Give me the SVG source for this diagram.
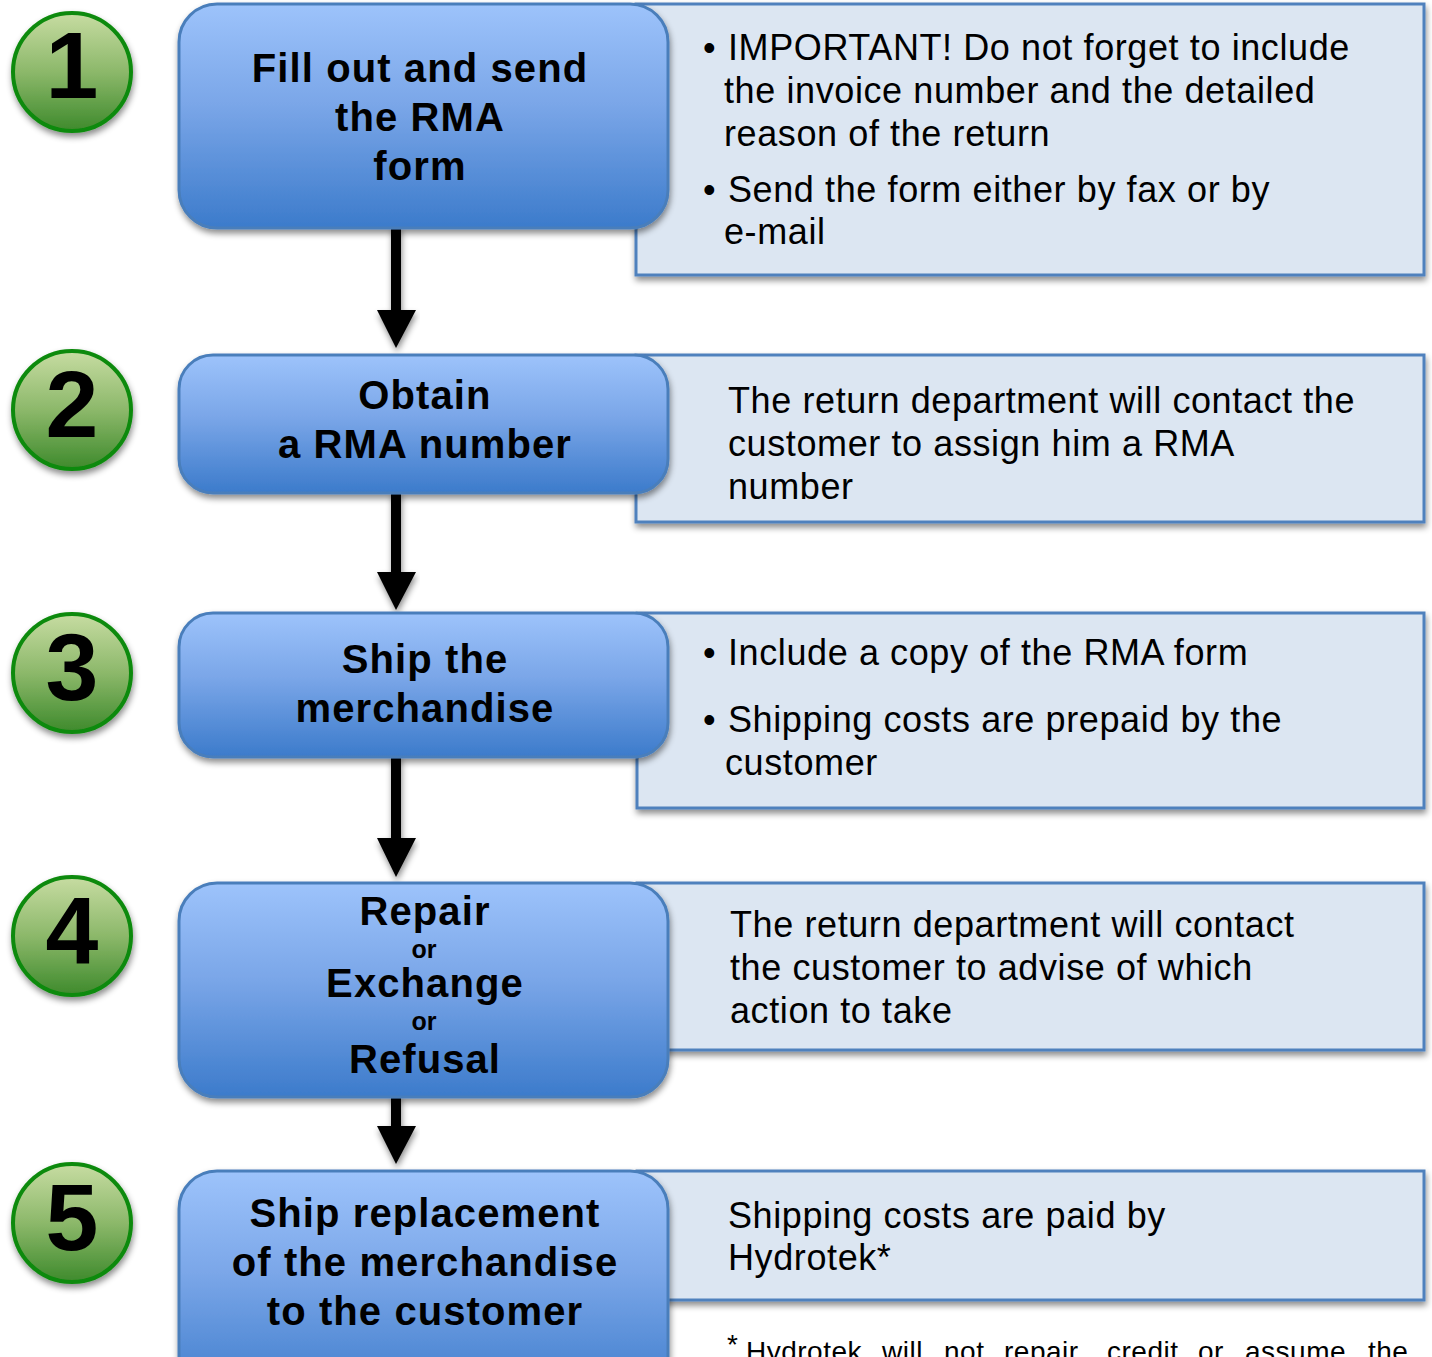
<svg xmlns="http://www.w3.org/2000/svg" width="1432" height="1357" viewBox="0 0 1432 1357">
<defs>
<linearGradient id="gBlue" x1="0" y1="0" x2="0" y2="1">
<stop offset="0" stop-color="#9dc3fb"/>
<stop offset="0.45" stop-color="#7aa6e8"/>
<stop offset="1" stop-color="#3c7bcb"/>
</linearGradient>
<linearGradient id="gGreen" x1="0" y1="0" x2="0" y2="1">
<stop offset="0" stop-color="#c7dca2"/>
<stop offset="0.5" stop-color="#8cb86a"/>
<stop offset="1" stop-color="#3e8a2c"/>
</linearGradient>
<filter id="sh" x="-10%" y="-10%" width="120%" height="130%">
<feDropShadow dx="1" dy="4" stdDeviation="3" flood-color="#000" flood-opacity="0.45"/>
</filter>
</defs>
<style>
.note{fill:#dce6f2;stroke:#4f81bd;stroke-width:3;filter:url(#sh)}
.step{fill:url(#gBlue);stroke:#4a7ebb;stroke-width:3;filter:url(#sh)}
.num{fill:url(#gGreen);stroke:#0b8a0b;stroke-width:4;filter:url(#sh)}
.n{font-family:"Liberation Sans",Arial,sans-serif;font-weight:bold;font-size:95px;text-anchor:middle;fill:#000}
.t{font-family:"Liberation Sans",Arial,sans-serif;font-weight:bold;font-size:40px;letter-spacing:1.1px;text-anchor:middle;fill:#000}
.or{font-family:"Liberation Sans",Arial,sans-serif;font-weight:bold;font-size:25px;text-anchor:middle;fill:#000}
.b{font-family:"Liberation Sans",Arial,sans-serif;font-size:36px;letter-spacing:0.6px;fill:#000}
.f{font-family:"Liberation Sans",Arial,sans-serif;font-size:28px;letter-spacing:0.5px;fill:#000}
.arr{fill:#000;filter:url(#sh)}
</style>
<rect width="1432" height="1357" fill="#fff"/>

<g id="note1"><rect class="note" x="636" y="4" width="788" height="271"/>
<text class="b"><tspan x="703" y="60">•</tspan><tspan x="728" y="60">IMPORTANT! Do not forget to include</tspan><tspan x="724" y="103">the invoice number and the detailed</tspan><tspan x="724" y="146">reason of the return</tspan><tspan x="703" y="202">•</tspan><tspan x="728" y="202">Send the form either by fax or by</tspan><tspan x="724" y="244">e-mail</tspan></text></g>
<g id="note2"><rect class="note" x="636" y="355" width="788" height="167"/>
<text class="b"><tspan x="728" y="413">The return department will contact the</tspan><tspan x="728" y="456">customer to assign him a RMA</tspan><tspan x="728" y="499">number</tspan></text></g>
<g id="note3"><rect class="note" x="637" y="613" width="787" height="195"/>
<text class="b"><tspan x="703" y="665">•</tspan><tspan x="728" y="665">Include a copy of the RMA form</tspan><tspan x="703" y="732">•</tspan><tspan x="728" y="732">Shipping costs are prepaid by the</tspan><tspan x="725" y="775">customer</tspan></text></g>
<g id="note4"><rect class="note" x="637" y="883" width="787" height="167"/>
<text class="b"><tspan x="730" y="937">The return department will contact</tspan><tspan x="730" y="980">the customer to advise of which</tspan><tspan x="730" y="1023">action to take</tspan></text></g>
<g id="note5"><rect class="note" x="637" y="1171" width="787" height="129"/>
<text class="b"><tspan x="728" y="1228">Shipping costs are paid by</tspan><tspan x="728" y="1270">Hydrotek*</tspan></text></g>

<g id="connectors">
<polygon class="arr" points="391,226 401,226 401,310 416,310 396,348 377,310 391,310"/>
<polygon class="arr" points="391,491 401,491 401,572 416,572 396,610 377,572 391,572"/>
<polygon class="arr" points="391,755 401,755 401,838 416,838 396,877 377,838 391,838"/>
<polygon class="arr" points="391,1095 401,1095 401,1126 416,1126 396,1164 377,1126 391,1126"/>
</g>

<g id="step1"><rect class="step" x="179" y="4" width="489" height="224" rx="38"/>
<text class="t"><tspan x="420" y="82">Fill out and send</tspan><tspan x="420" y="131">the RMA</tspan><tspan x="420" y="180">form</tspan></text></g>
<g id="step2"><rect class="step" x="179" y="355" width="489" height="138" rx="34"/>
<text class="t"><tspan x="425" y="409">Obtain</tspan><tspan x="425" y="458">a RMA number</tspan></text></g>
<g id="step3"><rect class="step" x="179" y="613" width="489" height="144" rx="34"/>
<text class="t"><tspan x="425" y="673">Ship the</tspan><tspan x="425" y="722">merchandise</tspan></text></g>
<g id="step4"><rect class="step" x="179" y="883" width="489" height="214" rx="38"/>
<text class="t"><tspan x="425" y="925">Repair</tspan></text>
<text class="or" x="424" y="958">or</text>
<text class="t"><tspan x="425" y="997">Exchange</tspan></text>
<text class="or" x="424" y="1030">or</text>
<text class="t"><tspan x="425" y="1073">Refusal</tspan></text></g>
<g id="step5"><rect class="step" x="179" y="1171" width="489" height="230" rx="38"/>
<text class="t"><tspan x="425" y="1227">Ship replacement</tspan><tspan x="425" y="1276">of the merchandise</tspan><tspan x="425" y="1325">to the customer</tspan></text></g>

<g id="num1"><circle class="num" cx="72" cy="72" r="59"/><text class="n" x="72" y="98">1</text></g>
<g id="num2"><circle class="num" cx="72" cy="410" r="59"/><text class="n" x="72" y="437">2</text></g>
<g id="num3"><circle class="num" cx="72" cy="673" r="59"/><text class="n" x="72" y="700">3</text></g>
<g id="num4"><circle class="num" cx="72" cy="936" r="59"/><text class="n" x="72" y="963">4</text></g>
<g id="num5"><circle class="num" cx="72" cy="1223" r="59"/><text class="n" x="72" y="1250">5</text></g>

<g id="footnote"><text class="f"><tspan x="727" y="1354">*</tspan><tspan x="746" y="1361">Hydrotek</tspan><tspan x="882" y="1361">will</tspan><tspan x="944" y="1361">not</tspan><tspan x="1004" y="1361">repair,</tspan><tspan x="1107" y="1361">credit</tspan><tspan x="1198" y="1361">or</tspan><tspan x="1245" y="1361">assume</tspan><tspan x="1368" y="1361">the</tspan></text></g>
</svg>
